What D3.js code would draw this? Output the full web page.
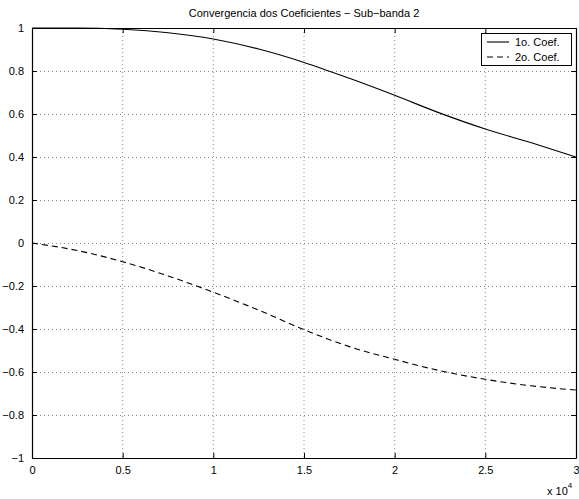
<!DOCTYPE html>
<html>
<head>
<meta charset="utf-8">
<script src="https://cdn.jsdelivr.net/npm/d3@7"></script>
<style>
  body { margin: 0; background: #fff; }
  text { font-family: "Liberation Sans", Arial, Helvetica, sans-serif; }
</style>
</head>
<body>
<svg id="chart" width="579" height="499"></svg>
<script>
// Data (x in units of 10^4 iterations)
const xValues = [0, 0.25, 0.5, 0.75, 1.0, 1.25, 1.5, 1.75, 2.0, 2.25, 2.5, 2.75, 3.0];
const coef1 = [1.0, 1.0, 0.994, 0.978, 0.949, 0.902, 0.84, 0.766, 0.687, 0.604, 0.53, 0.467, 0.40];
const coef2 = [0.0, -0.035, -0.087, -0.153, -0.229, -0.312, -0.403, -0.482, -0.541, -0.594, -0.634, -0.664, -0.684];
const xTicks = [0, 0.5, 1, 1.5, 2, 2.5, 3];
const yTicks = [-1, -0.8, -0.6, -0.4, -0.2, 0, 0.2, 0.4, 0.6, 0.8, 1];
const seriesNames = ["1o. Coef.", "2o. Coef."];
const title = "Convergencia dos Coeficientes \u2212 Sub\u2212banda 2";

const svg = d3.select("#chart");
const L = 32, R = 576, T = 28, B = 458;
const x = d3.scaleLinear().domain([0, 3]).range([L, R]);
const y = d3.scaleLinear().domain([-1, 1]).range([B, T]);

const fmt = v => {
  let s = String(Math.round(v * 10) / 10);
  return s.replace("-", "\u2212");
};

// grid
const grid = svg.append("g");
xTicks.slice(1, -1).forEach(t => {
  grid.append("line").attr("x1", x(t)).attr("x2", x(t)).attr("y1", T).attr("y2", B)
    .attr("stroke", "#888").attr("stroke-width", 1).attr("stroke-dasharray", "1,3");
});
yTicks.slice(1, -1).forEach(t => {
  grid.append("line").attr("x1", L).attr("x2", R).attr("y1", Math.round(y(t)) + 0.5).attr("y2", Math.round(y(t)) + 0.5)
    .attr("stroke", "#888").attr("stroke-width", 1).attr("stroke-dasharray", "1,3");
});

// axes (MATLAB style, inward ticks on all sides)
const tl = 5;
const axB = svg.append("g").attr("transform", `translate(0,${B})`)
  .call(d3.axisBottom(x).tickValues(xTicks).tickSizeInner(-tl).tickSizeOuter(0).tickPadding(8).tickFormat(fmt));
const axT = svg.append("g").attr("transform", `translate(0,${T})`)
  .call(d3.axisTop(x).tickValues(xTicks).tickSizeInner(-tl).tickSizeOuter(0).tickFormat(""));
const axL = svg.append("g").attr("transform", `translate(${L},0)`)
  .call(d3.axisLeft(y).tickValues(yTicks).tickSizeInner(-tl).tickSizeOuter(0).tickPadding(8).tickFormat(fmt));
const axR = svg.append("g").attr("transform", `translate(${R},0)`)
  .call(d3.axisRight(y).tickValues(yTicks).tickSizeInner(-tl).tickSizeOuter(0).tickFormat(""));
[axB, axT, axL, axR].forEach(a => {
  a.selectAll("path.domain").attr("stroke", "#000").attr("stroke-width", 1.2);
  a.selectAll(".tick line").attr("stroke", "#000");
  a.selectAll("text").attr("font-size", 11).attr("fill", "#000")
    .style("font-family", "'Liberation Sans', Arial, sans-serif");
});
axB.selectAll("text").attr("dy", "0.71em");

// lines
const line = d3.line().x((d, i) => x(xValues[i])).y(d => y(d)).curve(d3.curveMonotoneX);
svg.append("path").datum(coef1).attr("d", line).attr("fill", "none")
  .attr("stroke", "#000").attr("stroke-width", 1.1);
svg.append("path").datum(coef2).attr("d", line).attr("fill", "none")
  .attr("stroke", "#000").attr("stroke-width", 1.1).attr("stroke-dasharray", "6,4");

// title
svg.append("text").attr("x", (L + R) / 2).attr("y", 17).attr("text-anchor", "middle")
  .attr("font-size", 11).text(title);

// exponent label
const ex = svg.append("text").attr("x", 547).attr("y", 495).attr("font-size", 11);
ex.append("tspan").text("x 10");
ex.append("tspan").attr("dy", -7).attr("font-size", 8).text("4");

// legend
const lg = svg.append("g");
lg.append("rect").attr("x", 481.5).attr("y", 33.5).attr("width", 90).attr("height", 32)
  .attr("fill", "#fff").attr("stroke", "#000").attr("stroke-width", 1);
seriesNames.forEach((n, i) => {
  const yy = 42 + i * 15;
  lg.append("line").attr("x1", 487).attr("x2", 509).attr("y1", yy).attr("y2", yy)
    .attr("stroke", "#000").attr("stroke-width", 1.1)
    .attr("stroke-dasharray", i === 1 ? "6,4" : null);
  lg.append("text").attr("x", 515).attr("y", yy).attr("dy", "0.35em")
    .attr("font-size", 11).text(n);
});
</script>
</body>
</html>
